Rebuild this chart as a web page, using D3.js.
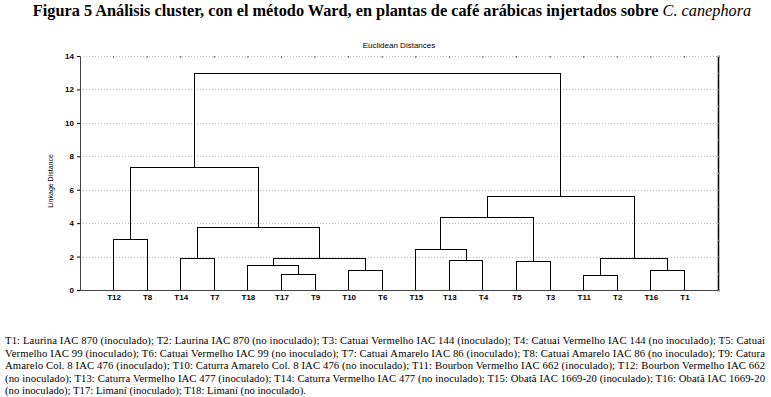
<!DOCTYPE html>
<html>
<head>
<meta charset="utf-8">
<script src="https://cdn.jsdelivr.net/npm/d3@7"></script>
<style>
  body { margin: 0; background: #fff; }
  .tick text { font-family: "Liberation Sans", Arial, sans-serif; font-weight: bold; font-size: 8px; fill: #000; }
  .grid line { stroke: #bbb; stroke-dasharray: 1 2; }
  .link { fill: none; stroke: #000; stroke-width: 1; shape-rendering: crispEdges; }
  .note { font-family: "Liberation Serif", "Times New Roman", serif; font-size: 10.7px; fill: #000; }
</style>
</head>
<body>
<div id="container"></div>
<script>
const WIDTH = 771,
      HEIGHT = 397;

const margin = { top: 56, bottom: 107, left: 80, right: 53 };

const width = WIDTH - margin.left - margin.right,
      height = HEIGHT - margin.top - margin.bottom;

// hojas del dendrograma, en el orden del eje X
const leaves = ["T12", "T8", "T14", "T7", "T18", "T17", "T9", "T10", "T6",
                "T15", "T13", "T4", "T5", "T3", "T11", "T2", "T16", "T1"];

// uniones: hijo izquierdo, hijo derecho, distancia (c1..c17 son los clusters)
const mergeA = ["T12", "T14", "T17", "T18", "T10", "c4", "c2", "c1",
                "T13", "T15", "T5", "c10", "T11", "T16", "c13", "c12", "c8"];
const mergeB = ["T8", "T7", "T9", "c3", "T6", "c5", "c6", "c7",
                "T4", "c9", "T3", "c11", "T2", "T1", "c14", "c15", "c16"];
const mergeHeight = [3.0, 1.86, 0.94, 1.48, 1.14, 1.9, 3.76, 7.35,
                     1.75, 2.43, 1.69, 4.36, 0.86, 1.18, 1.86, 5.62, 12.97];

const yTicks = [0, 2, 4, 6, 8, 10, 12, 14];

const notes = [
  "T1: Laurina IAC 870 (inoculado); T2: Laurina IAC 870 (no inoculado); T3: Catuai Vermelho IAC 144 (inoculado); T4: Catuai Vermelho IAC 144 (no inoculado); T5: Catuai",
  "Vermelho IAC 99 (inoculado); T6: Catuai Vermelho IAC 99 (no inoculado); T7: Catuai Amarelo IAC 86 (inoculado); T8: Catuai Amarelo IAC 86 (no inoculado); T9: Catura",
  "Amarelo Col. 8 IAC 476 (inoculado); T10: Caturra Amarelo Col. 8 IAC 476 (no inoculado); T11: Bourbon Vermelho IAC 662 (inoculado); T12: Bourbon Vermelho IAC 662",
  "(no inoculado); T13: Caturra Vermelho IAC 477 (inoculado); T14: Caturra Vermelho IAC 477 (no inoculado); T15: Obatã IAC 1669-20 (inoculado); T16: Obatã IAC 1669-20",
  "(no inoculado); T17: Limaní (inoculado); T18: Limaní (no inoculado)."
];

const svg = d3.select('#container')
    .append('svg')
    .attr("width", WIDTH)
    .attr("height", HEIGHT);

const container = svg.append('g')
    .attr("transform", `translate(${margin.left}, ${margin.top})`);

const xScale = d3.scaleLinear()
    .domain([0, leaves.length + 1])
    .range([0, width]);

const yScale = d3.scaleLinear()
    .domain([0, 14])
    .range([height, 0]);

// grid punteado
container.append("g")
    .attr("class", "grid")
    .selectAll("line")
    .data(yTicks.filter(d => d > 0))
    .join("line")
    .attr("x1", 0)
    .attr("x2", width)
    .attr("y1", d => Math.round(yScale(d)) + 0.5)
    .attr("y2", d => Math.round(yScale(d)) + 0.5);

// marcas pequeñas arriba
container.append("g")
    .selectAll("line")
    .data(leaves)
    .join("line")
    .attr("x1", (d, i) => xScale(i + 1))
    .attr("x2", (d, i) => xScale(i + 1))
    .attr("y1", 0)
    .attr("y2", 2)
    .attr("stroke", "#666");

// ejes
const yAxis = d3.axisLeft(yScale).tickValues(yTicks).tickSize(3).tickPadding(3);
container.append("g")
    .attr("class", "yAxis")
    .call(yAxis)
    .call(g => g.select(".domain").attr("stroke", "#444"));

const xAxis = d3.axisBottom(xScale)
    .tickValues(leaves.map((d, i) => i + 1))
    .tickFormat((d) => leaves[d - 1])
    .tickSize(0)
    .tickPadding(4);
container.append("g")
    .attr("class", "xAxis")
    .attr("transform", `translate(0, ${height})`)
    .call(xAxis)
    .call(g => g.select(".domain").attr("stroke", "#444"));

// eje derecho con marcas menores
const rightAxis = d3.axisRight(yScale).ticks(14).tickSize(2).tickFormat("");
container.append("g")
    .attr("transform", `translate(${width}, 0)`)
    .call(rightAxis)
    .call(g => g.select(".domain").attr("stroke", "#000").attr("stroke-width", 1.5))
    .call(g => g.selectAll(".tick line").attr("stroke", "#999"));

// posiciones de los nodos
const pos = {};
leaves.forEach((d, i) => { pos[d] = { x: xScale(i + 1), y: yScale(0) }; });
mergeA.forEach((a, i) => {
    const b = mergeB[i];
    pos["c" + (i + 1)] = {
        x: (pos[a].x + pos[b].x) / 2,
        y: yScale(mergeHeight[i])
    };
});

container.selectAll(".link")
    .data(mergeA.map((a, i) => [a, mergeB[i], mergeHeight[i]]))
    .join("path")
    .attr("class", "link")
    .attr("d", (d) => {
        const pa = pos[d[0]], pb = pos[d[1]], h = yScale(d[2]);
        return `M${pa.x},${pa.y}V${h}H${pb.x}V${pb.y}`;
    });

svg.append("text")
    .attr("x", margin.left + width / 2)
    .attr("y", 48)
    .attr("text-anchor", "middle")
    .attr("font-family", "Liberation Sans, Arial, sans-serif")
    .attr("font-size", 8)
    .text("Euclidean Distances");

svg.append("text")
    .attr("transform", "rotate(-90)")
    .attr("x", -(margin.top + 125))
    .attr("y", 53)
    .attr("text-anchor", "middle")
    .attr("font-family", "Liberation Sans, Arial, sans-serif")
    .attr("font-size", 7)
    .text("Linkage Distance");

const title = svg.append("text")
    .attr("x", 392)
    .attr("y", 16)
    .attr("text-anchor", "middle")
    .attr("font-family", "Liberation Serif, Times New Roman, serif")
    .attr("font-weight", "bold")
    .attr("font-size", 16.3);
title.append("tspan").text("Figura 5 Análisis cluster, con el método Ward, en plantas de café arábicas injertados sobre ");
title.append("tspan").attr("font-style", "italic").attr("font-weight", "normal").text("C. canephora");

svg.selectAll(".note")
    .data(notes)
    .join("text")
    .attr("class", "note")
    .attr("x", 5)
    .attr("y", (d, i) => 344 + i * 12.5)
    .attr("textLength", (d, i) => i < notes.length - 1 ? 760 : null)
    .attr("lengthAdjust", "spacing")
    .text(d => d);
</script>
</body>
</html>
